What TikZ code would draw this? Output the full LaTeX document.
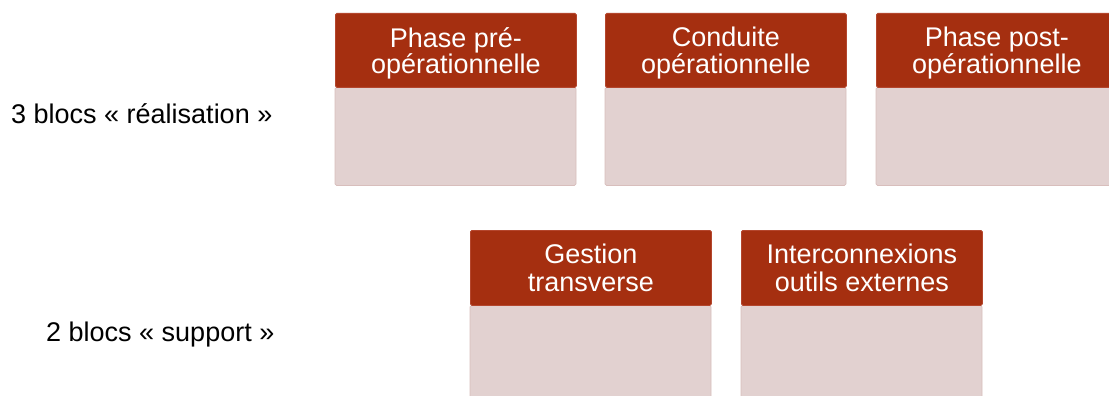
\documentclass[tikz,border=0pt]{standalone}
\usepackage{fontspec}
\setmainfont{Liberation Sans}
\definecolor{hdr}{RGB}{165,47,16}
\definecolor{hdrline}{RGB}{180,70,45}
\definecolor{bdy}{RGB}{226,209,208}
\definecolor{bdyline}{RGB}{216,190,188}
\begin{document}
\begin{tikzpicture}[x=1pt,y=-1pt,
  hdrbox/.style={draw=hdrline, fill=hdr, line width=0.8pt, rounded corners=1.5pt,
    minimum width=241pt, minimum height=74pt, inner sep=0pt, anchor=north west,
    text=white, align=center, text depth=0pt, font=\fontsize{27}{26.5}\selectfont},
  lowhdr/.style={hdrbox, minimum height=75pt, font=\fontsize{27}{28}\selectfont},
  bodybox/.style={draw=bdyline, fill=bdy, line width=0.8pt, rounded corners=1.5pt,
    minimum width=241pt, inner sep=0pt, anchor=north},
  lbl/.style={anchor=base west, inner sep=0pt, text=black, font=\fontsize{27}{30}\selectfont}]
\useasboundingbox (0,0) rectangle (1109,396);
\clip (0,0) rectangle (1109,396);
\fill[white] (0,0) rectangle (1109,396);
% labels
\node[lbl] (l1) at (11,123) {3 blocs « réalisation »};
\node[lbl] (l2) at (46,341) {2 blocs « support »};
% bodies first, then headers
\coordinate (t1) at (455.5,87);
\coordinate (t2) at (725.5,87);
\coordinate (t3) at (996.5,87);
\coordinate (t4) at (590.5,305);
\coordinate (t5) at (861.5,305);
\node[bodybox, minimum height=98pt] (b1) at (t1) {};
\node[bodybox, minimum height=98pt] (b2) at (t2) {};
\node[bodybox, minimum height=98pt] (b3) at (t3) {};
\node[bodybox, minimum height=172pt] (b4) at (t4) {};
\node[bodybox, minimum height=172pt] (b5) at (t5) {};
\node[hdrbox] (h1) at (335,13) {Phase pré-\\opérationnelle};
\node[hdrbox] (h2) at (605,13) {Conduite\\opérationnelle};
\node[hdrbox] (h3) at (876,13) {Phase post-\\opérationnelle};
\node[lowhdr] (h4) at (470,230) {Gestion\\transverse};
\node[lowhdr] (h5) at (741,230) {Interconnexions\\outils externes};
\end{tikzpicture}
\end{document}
